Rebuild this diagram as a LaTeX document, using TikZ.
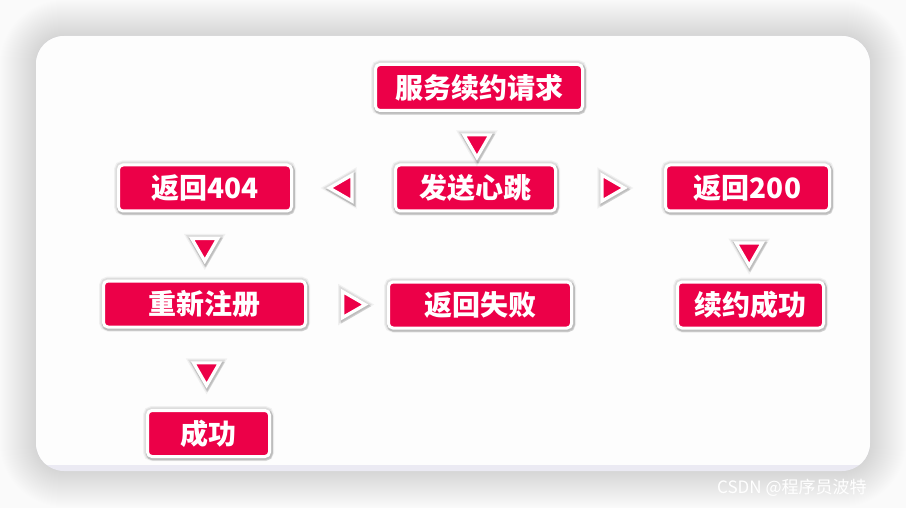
\documentclass[tikz,border=0pt]{standalone}
\usepackage{fontspec}
\newfontfamily\cjk{Noto Sans CJK SC}
\usetikzlibrary{shapes.geometric,shadows}
\definecolor{boxred}{RGB}{236,0,72}
\definecolor{bggray}{RGB}{250,250,250}
\definecolor{lav}{RGB}{235,234,243}
\definecolor{cardwhite}{RGB}{253,253,253}
\tikzset{
  halo/.style={
    preaction={draw=black, draw opacity=0.05, line width=9pt, fill=none},
    preaction={draw=black, draw opacity=0.08, line width=6.5pt, fill=none},
    preaction={draw=black, draw opacity=0.14, line width=5pt, fill=none,
      transform canvas={xshift=1pt, yshift=-1.6pt}}},
  box/.style={halo, draw=white, line width=3pt, fill=boxred, rounded corners=4.5pt,
    text=white, font=\cjk\bfseries\fontsize{28}{30}\selectfont,
    minimum height=46pt, inner sep=0pt},
  tri/.style={halo, regular polygon, regular polygon sides=3, fill=boxred, draw=white,
    line width=3.2pt, minimum size=30pt, inner sep=0pt},
  tridown/.style={tri, shape border rotate=180},
  trileft/.style={tri, shape border rotate=90},
  triright/.style={tri, shape border rotate=270},
}
\begin{document}
\begin{tikzpicture}[x=1pt, y=-1pt]
\useasboundingbox (0,0) rectangle (906,508);
\fill[bggray] (0,0) rectangle (906,508);
% card shadow
\foreach \i [evaluate=\i as \r using 28+\i] in {1,...,36} {
  \fill[black, opacity=0.0042, rounded corners=\r pt] (36-\i,36-\i) rectangle (870+\i,471+\i);
}
% card
\fill[lav, rounded corners=28pt] (36,36) rectangle (870,471);
\begin{scope}
  \clip[rounded corners=28pt] (36,36) rectangle (870,471);
  \fill[cardwhite] (36,36) rectangle (870,465);
\end{scope}

% nodes
\node[box, minimum width=207pt] (req) at (479,87.5) {服务续约请求};
\node[box, minimum width=160pt] (hb) at (475.5,188) {发送心跳};
\node[box, minimum width=173pt] (r404) at (205,188) {返回404};
\node[box, minimum width=164pt] (r200) at (747.5,188) {返回200};
\node[box, minimum width=202pt] (rereg) at (204.5,304) {重新注册};
\node[box, minimum width=183pt] (fail) at (480,305) {返回失败};
\node[box, minimum width=146pt] (renew) at (750.5,305) {续约成功};
\node[box, minimum width=122pt] (ok) at (208.5,433.5) {成功};

% connectors (arrow heads only)
\path (req.south) -- node[tridown, pos=0.59] (t1) {} (hb.north);
\path (hb.west) -- node[trileft, pos=0.49] (t2) {} (r404.east);
\path (hb.east) -- node[triright, pos=0.49] (t3) {} (r200.west);
\path (r404.south) -- node[tridown, pos=0.5] (t4) {} (rereg.north);
\path (rereg.east) -- node[triright, pos=0.54] (t5) {} (fail.west);
\path (r200.south) -- node[tridown, pos=0.56] (t6) {} (renew.north);
\path (rereg.south) -- node[tridown, pos=0.52] (t7) {} (ok.north);

% watermark
\node[anchor=west, text=white, font=\cjk\fontsize{17}{18}\selectfont, inner sep=0pt] (wm) at (717,488) {CSDN @程序员波特};
\end{tikzpicture}
\end{document}
